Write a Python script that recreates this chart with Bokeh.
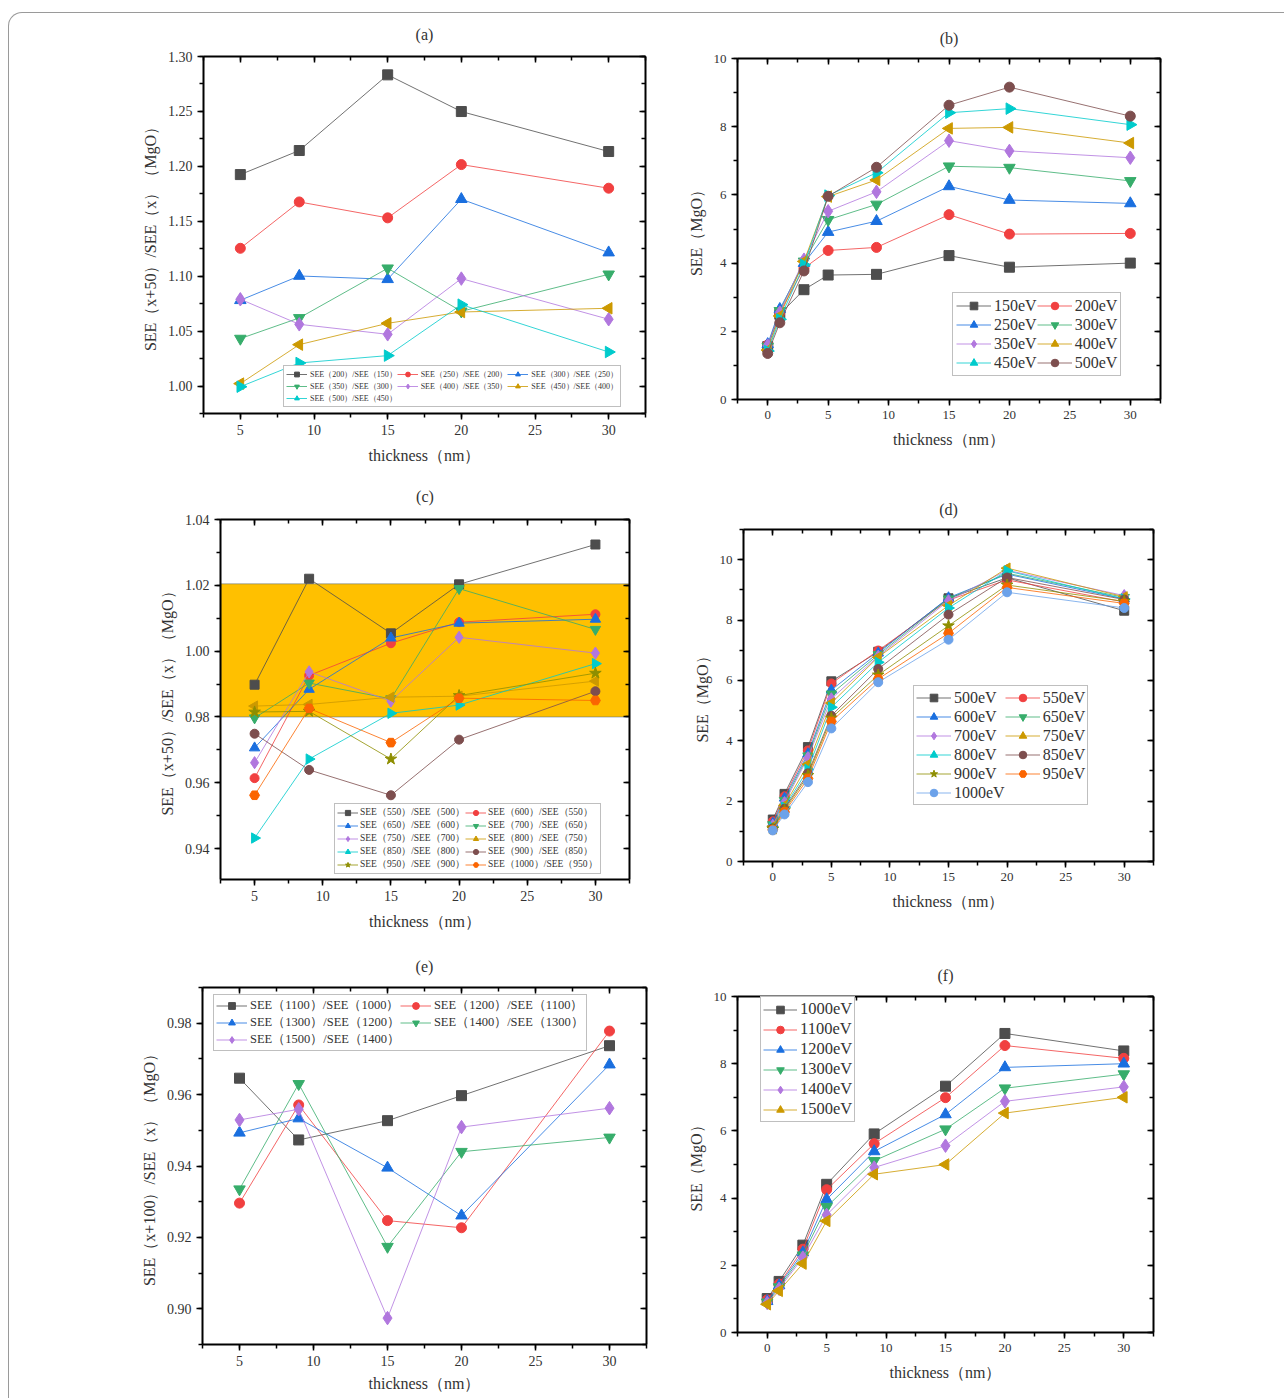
import numpy as np
from bokeh.plotting import figure
from bokeh.layouts import column, row
from bokeh.models import (Range1d, LinearAxis, SingleIntervalTicker, NumeralTickFormatter,
                          Legend, LegendItem, BoxAnnotation, InlineStyleSheet,
                          CustomJSTickFormatter)
from bokeh.embed import file_html
from bokeh.resources import INLINE

# ---------------- data ----------------
thick_ratio = [5, 9, 15, 20, 30]
thick_see = [0, 1, 3, 5, 9, 15, 20, 30]

# (a) SEE(x+50)/SEE(x), 150-500 eV
a_labels = ["SEE（200）/SEE（150）", "SEE（250）/SEE（200）", "SEE（300）/SEE（250）",
            "SEE（350）/SEE（300）", "SEE（400）/SEE（350）", "SEE（450）/SEE（400）",
            "SEE（500）/SEE（450）"]
a_200_150 = [1.1925, 1.2144, 1.2833, 1.2499, 1.2135]
a_250_200 = [1.1254, 1.1676, 1.1531, 1.2016, 1.1801]
a_300_250 = [1.0781, 1.1002, 1.0972, 1.1701, 1.1215]
a_350_300 = [1.0432, 1.0620, 1.1072, 1.0680, 1.1017]
a_400_350 = [1.0790, 1.0562, 1.0471, 1.0978, 1.0608]
a_450_400 = [1.0022, 1.0377, 1.0571, 1.0674, 1.0708]
a_500_450 = [0.9994, 1.0210, 1.0277, 1.0741, 1.0310]

# (b) SEE vs thickness, 150-500 eV
b_labels = ["150eV", "200eV", "250eV", "300eV", "350eV", "400eV", "450eV", "500eV"]
b_150 = [1.55, 2.50, 3.22, 3.65, 3.67, 4.22, 3.88, 4.00]
b_200 = [1.60, 2.55, 3.85, 4.37, 4.46, 5.42, 4.85, 4.87]
b_250 = [1.62, 2.65, 4.00, 4.91, 5.23, 6.25, 5.85, 5.75]
b_300 = [1.55, 2.60, 4.05, 5.27, 5.72, 6.84, 6.80, 6.41]
b_350 = [1.58, 2.55, 4.10, 5.52, 6.09, 7.59, 7.29, 7.09]
b_400 = [1.45, 2.45, 4.05, 5.95, 6.44, 7.95, 7.98, 7.52]
b_450 = [1.42, 2.35, 3.95, 5.98, 6.65, 8.41, 8.53, 8.06]
b_500 = [1.35, 2.25, 3.77, 5.96, 6.81, 8.63, 9.16, 8.31]

# (c) SEE(x+50)/SEE(x), 500-1000 eV
c_labels = ["SEE（550）/SEE（500）", "SEE（600）/SEE（550）", "SEE（650）/SEE（600）",
            "SEE（700）/SEE（650）", "SEE（750）/SEE（700）", "SEE（800）/SEE（750）",
            "SEE（850）/SEE（800）", "SEE（900）/SEE（850）", "SEE（950）/SEE（900）",
            "SEE（1000）/SEE（950）"]
c_550_500 = [0.9898, 1.0220, 1.0054, 1.0203, 1.0324]
c_600_550 = [0.9614, 0.9926, 1.0024, 1.0088, 1.0112]
c_650_600 = [0.9706, 0.9884, 1.0040, 1.0085, 1.0097]
c_700_650 = [0.9797, 0.9903, 0.9855, 1.0190, 1.0066]
c_750_700 = [0.9661, 0.9937, 0.9848, 1.0042, 0.9994]
c_800_750 = [0.9833, 0.9838, 0.9860, 0.9863, 0.9909]
c_850_800 = [0.9432, 0.9672, 0.9811, 0.9836, 0.9962]
c_900_850 = [0.9749, 0.9639, 0.9562, 0.9731, 0.9878]
c_950_900 = [0.9815, 0.9817, 0.9672, 0.9865, 0.9933]
c_1000_950 = [0.9562, 0.9826, 0.9722, 0.9857, 0.9850]
c_band = [0.980, 1.0205]

# (d) SEE vs thickness, 500-1000 eV
d_labels = ["500eV", "550eV", "600eV", "650eV", "700eV", "750eV", "800eV", "850eV",
            "900eV", "950eV", "1000eV"]
d_500 = [1.39, 2.24, 3.79, 5.97, 6.95, 8.72, 9.40, 8.31]
d_550 = [1.33, 2.16, 3.68, 5.90, 6.99, 8.66, 9.33, 8.60]
d_600 = [1.27, 2.10, 3.57, 5.68, 6.91, 8.74, 9.52, 8.70]
d_650 = [1.22, 2.02, 3.50, 5.55, 6.85, 8.70, 9.55, 8.75]
d_700 = [1.20, 1.95, 3.44, 5.39, 6.80, 8.64, 9.65, 8.81]
d_750 = [1.16, 1.86, 3.22, 5.25, 6.77, 8.48, 9.72, 8.77]
d_800 = [1.13, 1.80, 3.05, 5.11, 6.60, 8.40, 9.63, 8.70]
d_850 = [1.10, 1.75, 2.92, 4.83, 6.38, 8.18, 9.41, 8.68]
d_900 = [1.08, 1.70, 2.85, 4.75, 6.18, 7.81, 9.16, 8.62]
d_950 = [1.05, 1.64, 2.75, 4.64, 6.05, 7.56, 9.08, 8.55]
d_1000 = [1.03, 1.56, 2.63, 4.41, 5.94, 7.35, 8.92, 8.40]

# (e) SEE(x+100)/SEE(x), 1000-1500 eV
e_labels = ["SEE（1100）/SEE（1000）", "SEE（1200）/SEE（1100）", "SEE（1300）/SEE（1200）",
            "SEE（1400）/SEE（1300）", "SEE（1500）/SEE（1400）"]
e_1100_1000 = [0.9646, 0.9473, 0.9527, 0.9597, 0.9737]
e_1200_1100 = [0.9296, 0.9571, 0.9247, 0.9227, 0.9778]
e_1300_1200 = [0.9493, 0.9533, 0.9395, 0.9261, 0.9684]
e_1400_1300 = [0.9335, 0.9630, 0.9174, 0.9440, 0.9480]
e_1500_1400 = [0.9529, 0.9559, 0.8974, 0.9509, 0.9562]

# (f) SEE vs thickness, 1000-1500 eV
f_labels = ["1000eV", "1100eV", "1200eV", "1300eV", "1400eV", "1500eV"]
f_1000 = [1.01, 1.52, 2.60, 4.41, 5.91, 7.33, 8.90, 8.38]
f_1100 = [0.97, 1.44, 2.48, 4.25, 5.62, 6.99, 8.54, 8.16]
f_1200 = [0.93, 1.40, 2.38, 3.96, 5.39, 6.49, 7.89, 8.00]
f_1300 = [0.90, 1.35, 2.30, 3.74, 5.11, 6.05, 7.27, 7.69]
f_1400 = [0.88, 1.30, 2.23, 3.50, 4.91, 5.56, 6.88, 7.31]
f_1500 = [0.84, 1.24, 2.05, 3.32, 4.71, 5.00, 6.53, 7.00]

# ---------------- style ----------------
FONT = "Liberation Serif"
TXT = "#333333"
COLORS = ["#4D4D4D", "#F14040", "#1A6FDF", "#37AD6B", "#B177DE", "#CC9900",
          "#00CBCC", "#7D4E4E", "#8E8E00", "#FB6501", "#6CA2EA"]
MARKERS = [("square", 0.0, 1.0), ("circle", 0.0, 1.0), ("triangle", 0.0, 1.15),
           ("inverted_triangle", 0.0, 1.15), ("diamond", 0.0, 1.35),
           ("triangle", np.pi / 2, 1.15), ("triangle", -np.pi / 2, 1.15),
           ("circle", 0.0, 1.0), ("star", 0.0, 1.35), ("hex", 0.0, 1.1), ("circle", 0.0, 1.0)]


def make_fig(title, xr, yr, W, H, bl, br, bt, bb, xint, yint, yfmt, ylabel,
             tick_fs, label_fs, title_gap, xlab_stand=9):
    p = figure(width=W, height=H, x_range=Range1d(*xr), y_range=Range1d(*yr),
               output_backend="svg", toolbar_location=None, title=None,
               min_border_left=bl, min_border_right=br, min_border_top=bt, min_border_bottom=bb,
               background_fill_color="white", border_fill_color="white")
    p.frame_align = False
    p.grid.visible = False
    p.outline_line_color = None

    xt = SingleIntervalTicker(interval=xint, num_minor_ticks=2)
    yt = SingleIntervalTicker(interval=yint, num_minor_ticks=2)
    p.xaxis.ticker = xt
    p.yaxis.ticker = yt
    p.yaxis.formatter = NumeralTickFormatter(format=yfmt)
    for ax in (p.xaxis[0], p.yaxis[0]):
        ax.axis_line_width = 2
        ax.axis_line_color = "black"
        ax.major_tick_out = 6
        ax.major_tick_in = 0
        ax.minor_tick_out = 4
        ax.minor_tick_in = 0
        ax.major_tick_line_width = 1.5
        ax.minor_tick_line_width = 1.5
        ax.major_label_text_font = FONT
        ax.major_label_text_font_size = tick_fs
        ax.major_label_text_color = TXT
        ax.axis_label_text_font = FONT
        ax.axis_label_text_font_size = label_fs
        ax.axis_label_text_font_style = "normal"
        ax.axis_label_text_color = TXT
        ax.major_label_standoff = 5
    p.xaxis.axis_label_standoff = xlab_stand
    p.yaxis.axis_label_standoff = 6
    p.xaxis.axis_label = "thickness（nm）"
    p.yaxis.axis_label = ylabel

    blank = CustomJSTickFormatter(code="return ''")
    for loc, tk in (("above", xt), ("right", yt)):
        ax = LinearAxis(ticker=tk, formatter=blank, major_label_text_font_size="1px",
                        major_label_standoff=0,
                        axis_line_width=2, axis_line_color="black",
                        major_tick_in=6, major_tick_out=0, minor_tick_in=4, minor_tick_out=0,
                        major_tick_line_width=1.5, minor_tick_line_width=1.5)
        if loc == "above":
            # the panel title sits on the mirrored top axis
            ax.axis_label = title
            ax.axis_label_standoff = title_gap
            ax.axis_label_text_font = FONT
            ax.axis_label_text_font_size = "16px"
            ax.axis_label_text_font_style = "normal"
            ax.axis_label_text_color = TXT
        p.add_layout(ax, loc)
    return p


def add_series(p, xs, ys, idx, size):
    col = COLORS[idx]
    m, ang, sc = MARKERS[idx]
    l = p.line(xs, ys, line_color=col, line_width=1, line_alpha=0.8)
    s = p.scatter(xs, ys, marker=m, angle=ang, size=size * sc,
                  fill_color=col, line_color=col, line_width=1)
    return [l, s]


def add_legend(p, labels, rends, loc, ncols, fs, row_h, glyph_w, pad, standoff=3):
    items = [LegendItem(label=lab, renderers=r) for lab, r in zip(labels, rends)]
    lg = Legend(items=items, location=loc, orientation="horizontal", ncols=ncols,
                label_text_font=FONT, label_text_font_size=fs, label_text_color=TXT,
                glyph_width=glyph_w, glyph_height=row_h, label_height=row_h,
                label_standoff=standoff, spacing=0, padding=pad, margin=0,
                border_line_color="#808080", border_line_width=1,
                background_fill_color="white", background_fill_alpha=1.0)
    p.add_layout(lg, "center")
    return lg


# (a)
pa = make_fig("(a)", (2.5, 32.5), (0.975, 1.30), 680, 475, 203, 35, 56, 62, 5, 0.05, "0.00",
              "SEE（x+50）/SEE（x）（MgO）", "14px", "16px", 14)
a_series = [a_200_150, a_250_200, a_300_250, a_350_300, a_400_350, a_450_400, a_500_450]
ra = [add_series(pa, thick_ratio, ys, i, 10) for i, ys in enumerate(a_series)]
add_legend(pa, a_labels, ra, (80, 6), 3, "8px", 12, 21, 2)

# (b)
pb = make_fig("(b)", (-2.5, 32.5), (0, 10), 604, 475, 57, 124, 58, 76, 5, 2, "0",
              "SEE（MgO）", "13px", "16px", 12)
b_series = [b_150, b_200, b_250, b_300, b_350, b_400, b_450, b_500]
rb = [add_series(pb, thick_see, ys, i, 10) for i, ys in enumerate(b_series)]
add_legend(pb, b_labels, rb, (215, 23), 2, "16px", 19, 35, 3)

# (c)
pc = make_fig("(c)", (2.5, 32.5), (0.9306, 1.04), 680, 470, 220, 51, 44, 66, 5, 0.02, "0.00",
              "SEE（x+50）/SEE（x）（MgO）", "14px", "16px", 15)
band = BoxAnnotation(bottom=c_band[0], top=c_band[1], fill_color="#FFC000", fill_alpha=1.0,
                     line_color="#2F5597", line_width=1.5, level="underlay")
pc.add_layout(band)
c_series = [c_550_500, c_600_550, c_650_600, c_700_650, c_750_700, c_800_750,
            c_850_800, c_900_850, c_950_900, c_1000_950]
rc = [add_series(pc, thick_ratio, ys, i, 9) for i, ys in enumerate(c_series)]
add_legend(pc, c_labels, rc, (114, 5), 2, "9.5px", 13, 21, 2, 2)

# (d)
pd_ = make_fig("(d)", (-2.5, 32.5), (0, 11), 604, 470, 63, 131, 54, 84, 5, 2, "0",
               "SEE（MgO）", "13px", "16px", 12)
d_series = [d_500, d_550, d_600, d_650, d_700, d_750, d_800, d_850, d_900, d_950, d_1000]
rd = [add_series(pd_, thick_see, ys, i, 9) for i, ys in enumerate(d_series)]
add_legend(pd_, d_labels, rd, (170, 56), 2, "16px", 19, 35, 2)

# (e)
pe = make_fig("(e)", (2.5, 32.5), (0.89, 0.99), 680, 453, 202, 34, 42, 54, 5, 0.02, "0.00",
              "SEE（x+100）/SEE（x）（MgO）", "14px", "16px", 13, xlab_stand=6)
e_series = [e_1100_1000, e_1200_1100, e_1300_1200, e_1400_1300, e_1500_1400]
re_ = [add_series(pe, thick_ratio, ys, i, 10) for i, ys in enumerate(e_series)]
add_legend(pe, e_labels, re_, (11, 293), 2, "12.5px", 17, 31, 2)

# (f)
pf = make_fig("(f)", (-2.5, 32.5), (0, 10), 604, 453, 57, 131, 51, 66, 5, 2, "0",
              "SEE（MgO）", "13px", "16px", 13)
f_idx = [0, 1, 2, 3, 4, 5]
f_series = [f_1000, f_1100, f_1200, f_1300, f_1400, f_1500]
rf = [add_series(pf, thick_see, ys, i, 10) for i, ys in zip(f_idx, f_series)]
add_legend(pf, f_labels, rf, (23, 210), 1, "16.5px", 19, 34, 2)

css = InlineStyleSheet(css="""
:host { position: relative; }
:host::after { content: ''; position: absolute; left: 8px; top: 12px; width: 1276px; height: 1386px;
  border-left: 1px solid #9a9a9a; border-top: 1px solid #9a9a9a; border-top-left-radius: 14px;
  pointer-events: none; z-index: 10; }
""")
layout = column(row(pa, pb), row(pc, pd_), row(pe, pf), stylesheets=[css])

open("out.html", "w").write(file_html(layout, INLINE))
